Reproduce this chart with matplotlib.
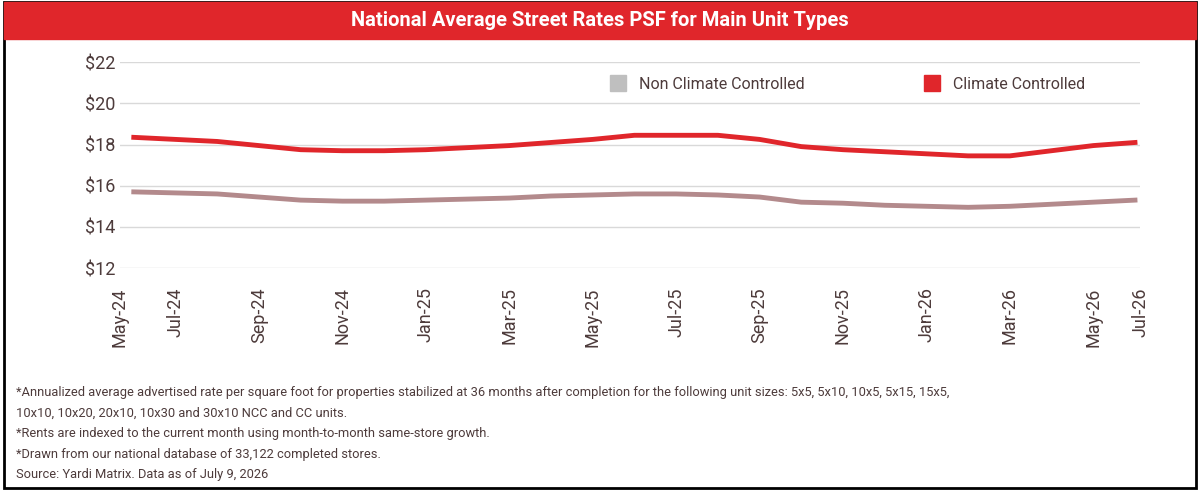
import matplotlib
matplotlib.use("Agg")
import matplotlib.pyplot as plt
from matplotlib.patches import Rectangle
from matplotlib.lines import Line2D

months = list(range(25))  # Jun-24 .. Jun-26
cc = [18.35,18.25,18.15,17.95,17.75,17.7,17.7,17.75,17.85,17.95,18.1,18.25,18.45,
      18.45,18.45,18.25,17.9,17.75,17.65,17.55,17.45,17.45,17.7,17.95,18.1]
ncc = [15.7,15.65,15.6,15.45,15.3,15.25,15.25,15.3,15.35,15.4,15.5,15.55,15.6,
       15.6,15.55,15.45,15.2,15.15,15.05,15.0,14.95,15.0,15.1,15.2,15.3]
tick_pos = [-0.33,1,3,5,7,9,11,13,15,17,19,21,23,24.12]
tick_labels = ["May-24","Jul-24","Sep-24","Nov-24","Jan-25","Mar-25","May-25","Jul-25",
               "Sep-25","Nov-25","Jan-26","Mar-26","May-26","Jul-26"]
yticks = [12,14,16,18,20,22]

plt.rcParams['font.family'] = ['Roboto','DejaVu Sans']
fig = plt.figure(figsize=(12,4.9), dpi=100)
fig.patches.append(Rectangle((0.003,0.004),0.994,0.992,transform=fig.transFigure,fill=False,ec='black',lw=2))
fig.patches.append(Rectangle((0.003,0.92),0.994,0.076,transform=fig.transFigure,color='#e0262b'))
fig.text(0.5,0.958,"National Average Street Rates PSF for Main Unit Types",ha='center',va='center',
         color='white',fontsize=14.5,fontweight='bold')

ax = fig.add_axes([0.1,0.453,0.85,0.42])
ax.plot(months,ncc,color='#b38a8c',lw=3.5)
ax.plot(months,cc,color='#e0262b',lw=3.5)
ax.set_xlim(-0.33,24.12)
ax.set_ylim(12,22)
ax.set_yticks(yticks)
ax.set_yticklabels([f"${v}" for v in yticks],fontsize=13,color='#4d3b3b')
ax.set_xticks(tick_pos)
ax.set_xticklabels(tick_labels,rotation=90,fontsize=13,color='#4d3b3b')
ax.tick_params(axis='x',pad=14)
ax.grid(axis='y',color='#d9d9d9',lw=1)
ax.set_axisbelow(True)
for s in ax.spines.values(): s.set_visible(False)
ax.tick_params(length=0)
h = [Line2D([],[],marker='s',ls='',color='#bfbfbf',markersize=11),
     Line2D([],[],marker='s',ls='',color='#e0262b',markersize=11)]
ax.legend(h,["Non Climate Controlled","Climate Controlled"],loc='upper right',
          bbox_to_anchor=(0.96,1.0),ncol=2,frameon=False,fontsize=11.5,columnspacing=7,
          handletextpad=0.3,labelcolor='#4d3b3b')

notes = ("*Annualized average advertised rate per square foot for properties stabilized at 36 months after completion for the following unit sizes: 5x5, 5x10, 10x5, 5x15, 15x5,\n"
         "10x10, 10x20, 20x10, 10x30 and 30x10 NCC and CC units.\n"
         "*Rents are indexed to the current month using month-to-month same-store growth.\n"
         "*Drawn from our national database of 33,122 completed stores.\n"
         "Source: Yardi Matrix. Data as of July 9, 2026")
fig.text(0.013,0.115,notes,ha='left',va='center',fontsize=9.3,color='#4d3b3b',linespacing=1.75)
fig.savefig("out.png")
